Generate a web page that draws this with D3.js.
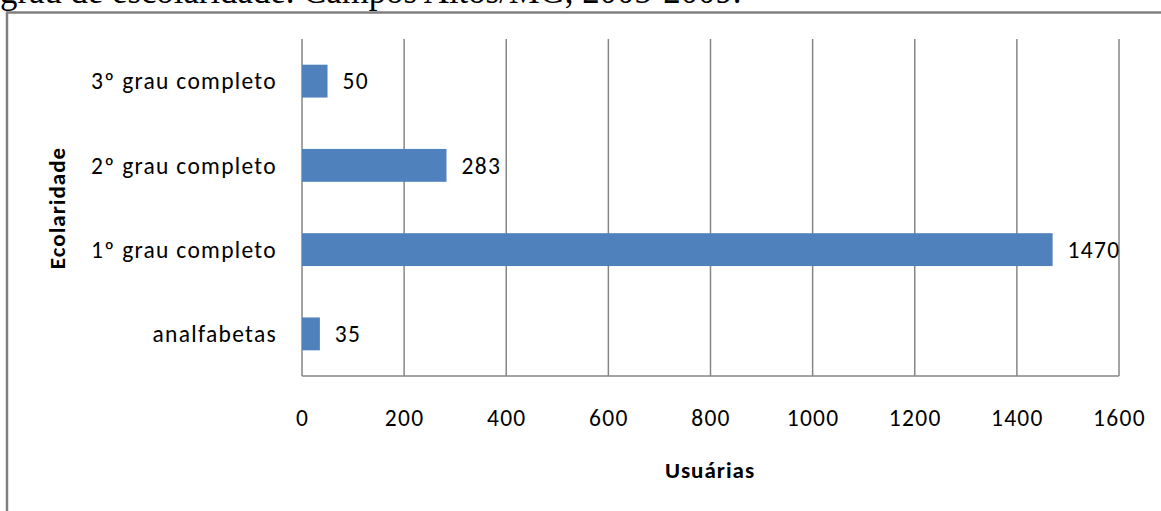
<!DOCTYPE html>
<html><head><meta charset="utf-8">
<script src="https://cdn.jsdelivr.net/npm/d3@7"></script>
<style>body{margin:0;background:#fff;overflow:hidden}svg{display:block}</style>
</head><body>
<svg id="c" width="1161" height="511"></svg>
<script>
const categories = ["analfabetas", "1º grau completo", "2º grau completo", "3º grau completo"];
const values = [35, 1470, 283, 50];
const xTicks = [0, 200, 400, 600, 800, 1000, 1200, 1400, 1600];
const titleText = "grau de escolaridade. Campos Altos/MG, 2005-2009.";
const xLabel = "Usuárias";
const yLabel = "Ecolaridade";

const svg = d3.select("#c");
const font = "Carlito, Calibri, Lato, 'Open Sans', sans-serif";
const pL = 302, pR = 1119, pT = 39, pB = 376;
const fs = 23.5, ls = 1.3;

const title = svg.append("text").attr("x", 0).attr("y", 3).attr("font-family", "'Liberation Serif', 'Times New Roman', serif")
  .attr("font-size", 20).attr("fill", "#000").text(titleText);
const tw = title.node().getComputedTextLength();
title.attr("font-size", 20 * 742 / tw);

// frame
svg.append("path").attr("d", `M7,511 V12.5 H1161`).attr("fill", "none").attr("stroke", "#808080").attr("stroke-width", 2.5);

const x = d3.scaleLinear().domain([0, 1600]).range([pL, pR]);
const y = d3.scaleBand().domain(categories.slice().reverse()).range([pT, pB]).paddingInner(0.61).paddingOuter(0.305);

// gridlines
svg.append("g").selectAll("line").data(xTicks).join("line")
  .attr("x1", d => x(d)).attr("x2", d => x(d)).attr("y1", pT).attr("y2", pB)
  .attr("stroke", "#868686").attr("stroke-width", 1.5);
svg.append("line").attr("x1", pL).attr("x2", pR).attr("y1", pB).attr("y2", pB)
  .attr("stroke", "#868686").attr("stroke-width", 1.5);

// bars
svg.append("g").selectAll("rect").data(categories).join("rect")
  .attr("x", x(0)).attr("y", d => y(d))
  .attr("width", (d, i) => x(values[i]) - x(0)).attr("height", y.bandwidth())
  .attr("fill", "#4F81BD");

// value labels
svg.append("g").selectAll("text").data(categories).join("text")
  .attr("x", (d, i) => x(values[i]) + 15).attr("y", d => y(d) + y.bandwidth() / 2)
  .attr("dy", "0.35em").attr("font-family", font).attr("font-size", fs).attr("letter-spacing", ls).attr("fill", "#000")
  .text((d, i) => values[i]);

// x axis labels
const xAxis = d3.axisBottom(x).tickValues(xTicks).tickFormat(d3.format("d")).tickSize(0).tickPadding(0);
const gx = svg.append("g").attr("transform", `translate(0,${pB})`).call(xAxis);
gx.select(".domain").remove();
gx.selectAll("text").attr("y", 42).attr("dy", "0.35em").attr("font-family", font).attr("font-size", fs).attr("letter-spacing", ls).attr("fill", "#000");

// y axis labels
const yAxis = d3.axisLeft(y).tickSize(0).tickPadding(0);
const gy = svg.append("g").attr("transform", `translate(277,0)`).call(yAxis);
gy.select(".domain").remove();
gy.selectAll("text").attr("dy", "0.35em").attr("font-family", font).attr("font-size", fs).attr("letter-spacing", ls).attr("fill", "#000");

svg.append("text").attr("x", 710).attr("y", 470).attr("dy", "0.35em").attr("text-anchor", "middle")
  .attr("font-family", font).attr("font-size", 23).attr("letter-spacing", 1).attr("font-weight", "bold").text(xLabel);
svg.append("text").attr("transform", "translate(57,208) rotate(-90)").attr("dy", "0.35em").attr("text-anchor", "middle")
  .attr("font-family", font).attr("font-size", 23).attr("letter-spacing", 1).attr("font-weight", "bold").text(yLabel);
</script>
</body></html>
